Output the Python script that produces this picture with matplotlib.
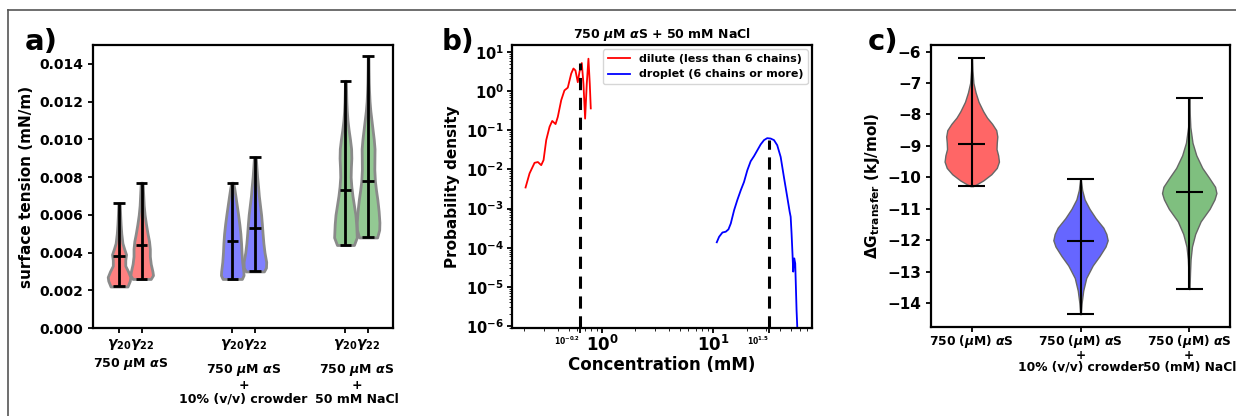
import matplotlib
matplotlib.use('Agg')

import numpy as np
import matplotlib.pyplot as plt
from matplotlib.lines import Line2D

plt.rcParams['font.family'] = ['DejaVu Sans']
plt.rcParams['font.weight'] = 'bold'
plt.rcParams['axes.labelweight'] = 'bold'
plt.rcParams['axes.linewidth'] = 1.6
plt.rcParams['xtick.major.width'] = 1.3
plt.rcParams['ytick.major.width'] = 1.3

# --- panel a: surface tension violins (profiles) ---
a_positions = [1, 2, 6, 7, 11, 12]
a_tick_labels = [r'$\gamma_{20}$', r'$\gamma_{22}$'] * 3
a_group_x = [1.5, 6.5, 11.5]
a_group_labels = [r'750 $\mu$M $\alpha$S',
                  '750 $\\mu$M $\\alpha$S\n+\n10% (v/v) crowder',
                  '750 $\\mu$M $\\alpha$S\n+\n50 mM NaCl']
a_colors = ['#ff8080', '#ff8080', '#8080ff', '#8080ff', '#93c993', '#93c993']
a_min = [0.0022, 0.0026, 0.0026, 0.0030, 0.0044, 0.0048]
a_max = [0.0066, 0.0077, 0.0077, 0.00905, 0.0131, 0.0144]
a_median = [0.0038, 0.0044, 0.0046, 0.0053, 0.0073, 0.0078]
a_coords = [
    [0.0022, 0.0025, 0.0027, 0.0030, 0.0033, 0.0036, 0.0039, 0.0042, 0.0045, 0.0050, 0.0055, 0.0060, 0.0066],
    [0.0026, 0.0028, 0.0030, 0.0034, 0.0038, 0.0042, 0.0046, 0.0050, 0.0055, 0.0060, 0.0065, 0.0070, 0.0077],
    [0.0026, 0.0028, 0.0030, 0.0035, 0.0040, 0.0045, 0.0050, 0.0055, 0.0060, 0.0065, 0.0070, 0.0074, 0.0077],
    [0.0030, 0.0032, 0.0035, 0.0040, 0.0045, 0.0050, 0.0055, 0.0060, 0.0065, 0.0070, 0.0075, 0.0080, 0.0085, 0.00905],
    [0.0044, 0.0048, 0.0055, 0.0060, 0.0065, 0.0070, 0.0075, 0.0080, 0.0085, 0.0090, 0.0095, 0.0100, 0.0105,
     0.0110, 0.0115, 0.0120, 0.0125, 0.0131],
    [0.0048, 0.0052, 0.0056, 0.0062, 0.0068, 0.0073, 0.0078, 0.0084, 0.0090, 0.0095, 0.0100, 0.0105, 0.0110,
     0.0115, 0.0120, 0.0125, 0.0130, 0.0137, 0.0144],
]
a_vals = [
    [0.75, 0.95, 1.0, 0.8, 0.55, 0.55, 0.62, 0.45, 0.3, 0.2, 0.14, 0.1, 0.06],
    [0.8, 1.0, 0.95, 0.8, 0.72, 0.72, 0.65, 0.52, 0.38, 0.26, 0.18, 0.14, 0.08],
    [0.85, 1.0, 0.98, 0.88, 0.82, 0.78, 0.72, 0.63, 0.52, 0.4, 0.28, 0.18, 0.08],
    [0.8, 0.98, 1.0, 0.85, 0.75, 0.68, 0.62, 0.55, 0.45, 0.35, 0.28, 0.2, 0.14, 0.08],
    [0.75, 1.0, 0.95, 0.88, 0.75, 0.62, 0.52, 0.46, 0.48, 0.52, 0.5, 0.4, 0.28, 0.18, 0.12, 0.08, 0.06, 0.04],
    [0.8, 0.98, 1.0, 0.93, 0.82, 0.7, 0.6, 0.55, 0.56, 0.57, 0.5, 0.4, 0.3, 0.2, 0.13, 0.09, 0.06, 0.04, 0.03],
]

# --- panel b: probability density (log10 values) ---
dilute_logx = [-0.688, -0.652, -0.607, -0.577, -0.547, -0.526, -0.502, -0.472, -0.448, -0.418, -0.398,
               -0.367, -0.338, -0.308, -0.277, -0.257, -0.239, -0.218, -0.203, -0.182, -0.167, -0.152,
               -0.137, -0.122, -0.110, -0.101]
dilute_logy = [-2.46, -2.10, -1.83, -1.81, -1.89, -1.76, -1.25, -0.91, -0.76, -0.84, -0.66,
               -0.23, 0.02, 0.09, 0.45, 0.58, 0.53, 0.23, 0.49, 0.72, 0.19, -0.70,
               0.19, 0.83, 0.19, -0.44]
droplet_logx = [1.033, 1.054, 1.084, 1.114, 1.138, 1.159, 1.189, 1.218, 1.249, 1.278, 1.308, 1.338,
                1.368, 1.398, 1.428, 1.458, 1.487, 1.518, 1.548, 1.577, 1.608, 1.637, 1.667, 1.689,
                1.698, 1.706, 1.715, 1.721, 1.730, 1.739, 1.745, 1.751, 1.757, 1.760]
droplet_logy = [-3.86, -3.72, -3.61, -3.59, -3.53, -3.38, -3.04, -2.78, -2.53, -2.32, -2.02, -1.79,
                -1.66, -1.51, -1.36, -1.25, -1.20, -1.21, -1.25, -1.38, -1.68, -2.19, -2.70, -3.08,
                -3.21, -3.63, -4.19, -4.61, -4.27, -4.40, -5.00, -5.59, -6.00, -6.50]
peak_logx = [-0.2, 1.5]
peak_logy = [0.72, -1.25]

# --- panel c: transfer free energy violins ---
c_labels = ['750 ($\\mu$M) $\\alpha$S',
            '750 ($\\mu$M) $\\alpha$S\n+\n10% (v/v) crowder',
            '750 ($\\mu$M) $\\alpha$S\n+\n50 (mM) NaCl']
c_colors = ['#ff6666', '#6666ff', '#7fbf7f']
c_min = [-10.28, -14.35, -13.55]
c_max = [-6.2, -10.05, -7.48]
c_mean = [-8.95, -12.02, -10.47]
c_coords = [
    [-10.28, -10.2, -10.1, -9.9, -9.7, -9.5, -9.3, -9.1, -8.9, -8.7, -8.5, -8.3, -8.1, -7.9, -7.6, -7.3,
     -7.0, -6.6, -6.2],
    [-14.35, -14.0, -13.6, -13.2, -12.8, -12.5, -12.2, -12.0, -11.8, -11.6, -11.3, -11.0, -10.7, -10.4, -10.05],
    [-13.55, -13.0, -12.6, -12.2, -11.8, -11.4, -11.0, -10.7, -10.5, -10.3, -10.0, -9.7, -9.3, -8.9, -8.4,
     -8.0, -7.48],
]
c_vals = [
    [0.05, 0.22, 0.42, 0.72, 0.92, 1.0, 0.97, 0.91, 0.92, 0.94, 0.9, 0.75, 0.56, 0.42, 0.25, 0.14,
     0.06, 0.025, 0.01],
    [0.01, 0.04, 0.1, 0.21, 0.45, 0.7, 0.92, 1.0, 0.95, 0.84, 0.56, 0.33, 0.15, 0.06, 0.01],
    [0.01, 0.03, 0.05, 0.1, 0.22, 0.42, 0.75, 0.93, 1.0, 0.95, 0.72, 0.48, 0.26, 0.12, 0.04, 0.02, 0.01],
]


def make_stats(coords, vals, mins, maxs, centers):
    stats = []
    for co, va, lo, hi, ce in zip(coords, vals, mins, maxs, centers):
        stats.append({'coords': np.array(co), 'vals': np.array(va), 'mean': ce, 'median': ce,
                      'min': lo, 'max': hi})
    return stats


def style_violin(parts, colors, edge, edge_lw, line_lw):
    for body, col in zip(parts['bodies'], colors):
        body.set_alpha(1.0)
        body.set_facecolor(col)
        body.set_edgecolor(edge)
        body.set_linewidth(edge_lw)
    for key in ['cmins', 'cmaxes', 'cbars', 'cmedians']:
        if key in parts:
            parts[key].set_color('black')
            parts[key].set_linewidth(line_lw)


fig = plt.figure(figsize=(12.36, 4.16), dpi=100)

# outer frame (only the top and left edges are visible)
fig.add_artist(Line2D([8 / 1236, 1.0], [1 - 10 / 416, 1 - 10 / 416], color='#555555', lw=1.2))
fig.add_artist(Line2D([8 / 1236, 8 / 1236], [0.0, 1 - 10 / 416], color='#555555', lw=1.2))

# ---- a) ----
ax1 = fig.add_axes([93 / 1236, 1 - 328 / 416, 300 / 1236, 283 / 416])
parts = ax1.violin(make_stats(a_coords, a_vals, a_min, a_max, a_median), positions=a_positions,
                   widths=1.0, showmeans=False, showextrema=True, showmedians=True)
style_violin(parts, a_colors, '#8a8a8a', 2.0, 2.0)
ax1.set_xlim(-0.15, 13.1)
ax1.set_ylim(0, 0.015)
ax1.set_yticks([0.0, 0.002, 0.004, 0.006, 0.008, 0.010, 0.012, 0.014])
ax1.set_xticks(a_positions, a_tick_labels, fontsize=10)
ax1.tick_params(axis='x', pad=3)
ax1.tick_params(axis='y', labelsize=10)
ax1.set_ylabel('surface tension (mN/m)', fontsize=11)
for gx, gl in zip(a_group_x, a_group_labels):
    ytop = -0.098 if '\n' not in gl else -0.12
    ax1.text(gx, ytop, gl, transform=ax1.get_xaxis_transform(), ha='center', va='top',
             multialignment='center', fontsize=9, fontweight='bold', linespacing=1.1)
fig.text(25 / 1236, 1 - 42 / 416, 'a)', fontsize=21, fontweight='bold', va='center')

# ---- b) ----
ax2 = fig.add_axes([512 / 1236, 1 - 328 / 416, 300 / 1236, 283 / 416])
ax2.plot(np.power(10.0, dilute_logx), np.power(10.0, dilute_logy), color='red', lw=1.3,
         label='dilute (less than 6 chains)')
ax2.plot(np.power(10.0, droplet_logx), np.power(10.0, droplet_logy), color='blue', lw=1.3,
         label='droplet (6 chains or more)')
ax2.set_xscale('log')
ax2.set_yscale('log')
ax2.set_xlim(10 ** -0.81, 10 ** 1.89)
ax2.set_ylim(10 ** -6.05, 10 ** 1.18)
ax2.vlines(np.power(10.0, peak_logx), 10 ** -6.05, np.power(10.0, peak_logy), colors='black',
           linestyles=(0, (4, 2.5)), lw=2.2)
ax2.set_xticks([10 ** -0.2, 1, 10, 10 ** 1.5],
               [r'$10^{-0.2}$', r'$\mathbf{10^{0}}$', r'$\mathbf{10^{1}}$', r'$10^{1.5}$'])
ax2.tick_params(axis='x', pad=1.5)
for i, lab in enumerate(ax2.get_xticklabels()):
    if i in (0, 3):
        lab.set_fontsize(5.5)
        lab.set_horizontalalignment('right')
    else:
        lab.set_fontsize(12)
ax2.set_yticks([10.0 ** e for e in range(-6, 2)],
               [r'$\mathbf{10^{%d}}$' % e for e in range(-6, 2)], fontsize=10.5)
ax2.tick_params(axis='y', pad=2.5)
ax2.set_xlabel('Concentration (mM)', fontsize=12, labelpad=1)
ax2.set_ylabel('Probability density', fontsize=11)
ax2.set_title(r'750 $\mu$M $\alpha$S + 50 mM NaCl', fontsize=9, fontweight='bold', pad=5)
ax2.legend(loc='upper right', prop={'weight': 'bold', 'size': 8}, borderaxespad=0.4)
fig.text(442 / 1236, 1 - 42 / 416, 'b)', fontsize=20, fontweight='bold', va='center')

# ---- c) ----
ax3 = fig.add_axes([931 / 1236, 1 - 327 / 416, 299 / 1236, 282 / 416])
parts = ax3.violin(make_stats(c_coords, c_vals, c_min, c_max, c_mean), positions=[1, 2, 3],
                   widths=0.5, showmeans=False, showextrema=True, showmedians=True)
style_violin(parts, c_colors, '#666666', 1.0, 1.5)
ax3.set_xticks([1, 2, 3], c_labels, fontsize=8.8, linespacing=0.9)
ax3.tick_params(axis='x', pad=0.5)
ax3.tick_params(axis='y', labelsize=11)
ax3.set_ylabel(r'$\mathbf{\Delta G_{transfer}}$ (kJ/mol)', fontsize=11)
fig.text(868 / 1236, 1 - 42 / 416, 'c)', fontsize=21, fontweight='bold', va='center')

fig.savefig('out.png', dpi=100)
